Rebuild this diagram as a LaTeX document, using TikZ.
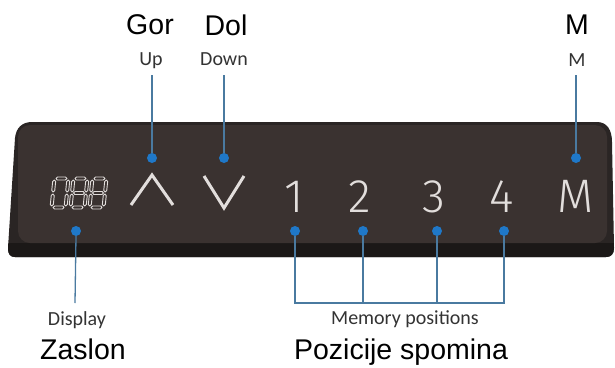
\documentclass[tikz,border=0pt]{standalone}
\usepackage{fontspec}
\setmainfont{Liberation Sans}
\newfontfamily\calibrifont{Carlito}
\newfontfamily\thinfont{Fira Sans Light}
\definecolor{rimcol}{HTML}{2A2524}
\definecolor{facecol}{HTML}{3A3230}
\definecolor{botcol}{HTML}{1B1817}
\definecolor{glyphcol}{HTML}{E2DEDC}
\definecolor{linecol}{HTML}{4A7AA0}
\definecolor{dotcol}{HTML}{1F78C8}
\definecolor{smalltext}{HTML}{333333}
\tikzset{
  bigtext/.style={inner sep=0pt, text=black, font=\fontsize{28.5}{30}\selectfont},
  smalllabel/.style={inner sep=0pt, anchor=base, text=smalltext, font=\calibrifont\fontsize{20}{22}\selectfont},
  bigbase/.style={bigtext, anchor=base},
  keyglyph/.style={inner sep=0pt, anchor=base, text=glyphcol, font=\thinfont\fontsize{47}{50}\selectfont},
  dot/.style={circle, fill=dotcol, inner sep=0pt, minimum size=10pt},
  leader/.style={draw=linecol, line width=1.3pt},
  seg/.style={draw=glyphcol, line width=0.9pt, line join=round},
  chev/.style={draw=glyphcol, line width=3pt, line join=miter, line cap=butt}
}
\newcommand{\hsegm}[3]{\draw[seg] (#1,#3) -- (#1+1.5,#3-1.5) -- (#2-1.5,#3-1.5) -- (#2,#3) -- (#2-1.5,#3+1.5) -- (#1+1.5,#3+1.5) -- cycle;}
\newcommand{\vsegm}[3]{\draw[seg] (#1,#2) -- (#1+1.5,#2+1.5) -- (#1+1.5,#3-1.5) -- (#1,#3) -- (#1-1.5,#3-1.5) -- (#1-1.5,#2+1.5) -- cycle;}
\newcommand{\segdigit}[2]{%
  \begin{scope}[shift={(#1,193)}, xslant=0.1]
    \hsegm{-5.5}{5.5}{-14.5}
    \hsegm{-5.5}{5.5}{14.5}
    \vsegm{-7}{-13}{-1}
    \vsegm{7}{-13}{-1}
    \vsegm{-7}{1}{13}
    \vsegm{7}{1}{13}
    \ifnum#2=1 \hsegm{-5.5}{5.5}{0}\fi
  \end{scope}}
\begin{document}
\begin{tikzpicture}[x=1pt, y=-1pt]
\useasboundingbox (0,0) rectangle (615,367);
\fill[white] (0,0) rectangle (615,367);

% panel
\def\outerpath{(32,122) -- (597,122) .. controls (607,122) and (612,130) .. (612,142) -- (614,248) .. controls (614,254) and (611,257) .. (606,257) -- (15,257) .. controls (10,257) and (8,254) .. (8,248) -- (15,138) .. controls (16,128) and (22,122) .. (32,122) -- cycle}
\fill[rimcol] \outerpath;
\begin{scope}
  \clip \outerpath;
  \fill[botcol] (0,243) rectangle (615,260);
\end{scope}
\fill[facecol, rounded corners=12pt] (18,125) rectangle (607,243);

% display digits
\segdigit{60}{0}
\segdigit{79}{1}
\segdigit{98}{1}

% chevrons
\draw[chev] (131,205) -- (152,175) -- (173,205);
\draw[chev] (204,176) -- (224,208) -- (244,176);

% key glyphs
\node[keyglyph] (k1) at (294,212) {1};
\node[keyglyph] (k2) at (360,212) {2};
\node[keyglyph] (k3) at (434,212) {3};
\node[keyglyph] (k4) at (502,212) {4};
\node[keyglyph] (kM) at (576,212) {M};

% labels
\node[bigtext] (gor) at (150,25) {Gor};
\node[bigtext] (dol) at (226,25) {Dol};
\node[bigtext] (mbig) at (577,25) {M};
\node[smalllabel] (up) at (151,65) {Up};
\node[smalllabel] (down) at (224,65) {Down};
\node[smalllabel] (msmall) at (577,66) {M};
\node[smalllabel] (disp) at (77,325) {Display};
\node[smalllabel] (mem) at (405,324) {Memory positions};
\node[bigbase] (zaslon) at (83,359) {Zaslon};
\node[bigbase] (pozicije) at (401,359) {Pozicije spomina};

% dots
\coordinate (tup) at (152,75);
\coordinate (tdown) at (224,75);
\coordinate (tm) at (576,75);
\coordinate (bdisp) at (75,303);
\coordinate (b1) at (295,303);
\coordinate (b2) at (363,303);
\coordinate (b3) at (437,303);
\coordinate (b4) at (504,303);
\node[dot] (dup) at (152,158) {};
\node[dot] (ddown) at (224,158) {};
\node[dot] (dm) at (576,158) {};
\node[dot] (ddisp) at (76,231) {};
\node[dot] (d1) at (295,231) {};
\node[dot] (d2) at (363,231) {};
\node[dot] (d3) at (437,231) {};
\node[dot] (d4) at (504,231) {};

% leaders
\draw[leader] (tup) -- (dup.north);
\draw[leader] (tdown) -- (ddown.north);
\draw[leader] (tm) -- (dm.north);
\draw[leader] (ddisp.south) -- (bdisp);
\draw[leader] (d1.south) -- (b1) -- (b4) -- (d4.south);
\draw[leader] (d2.south) -- (b2);
\draw[leader] (d3.south) -- (b3);
\end{tikzpicture}
\end{document}
